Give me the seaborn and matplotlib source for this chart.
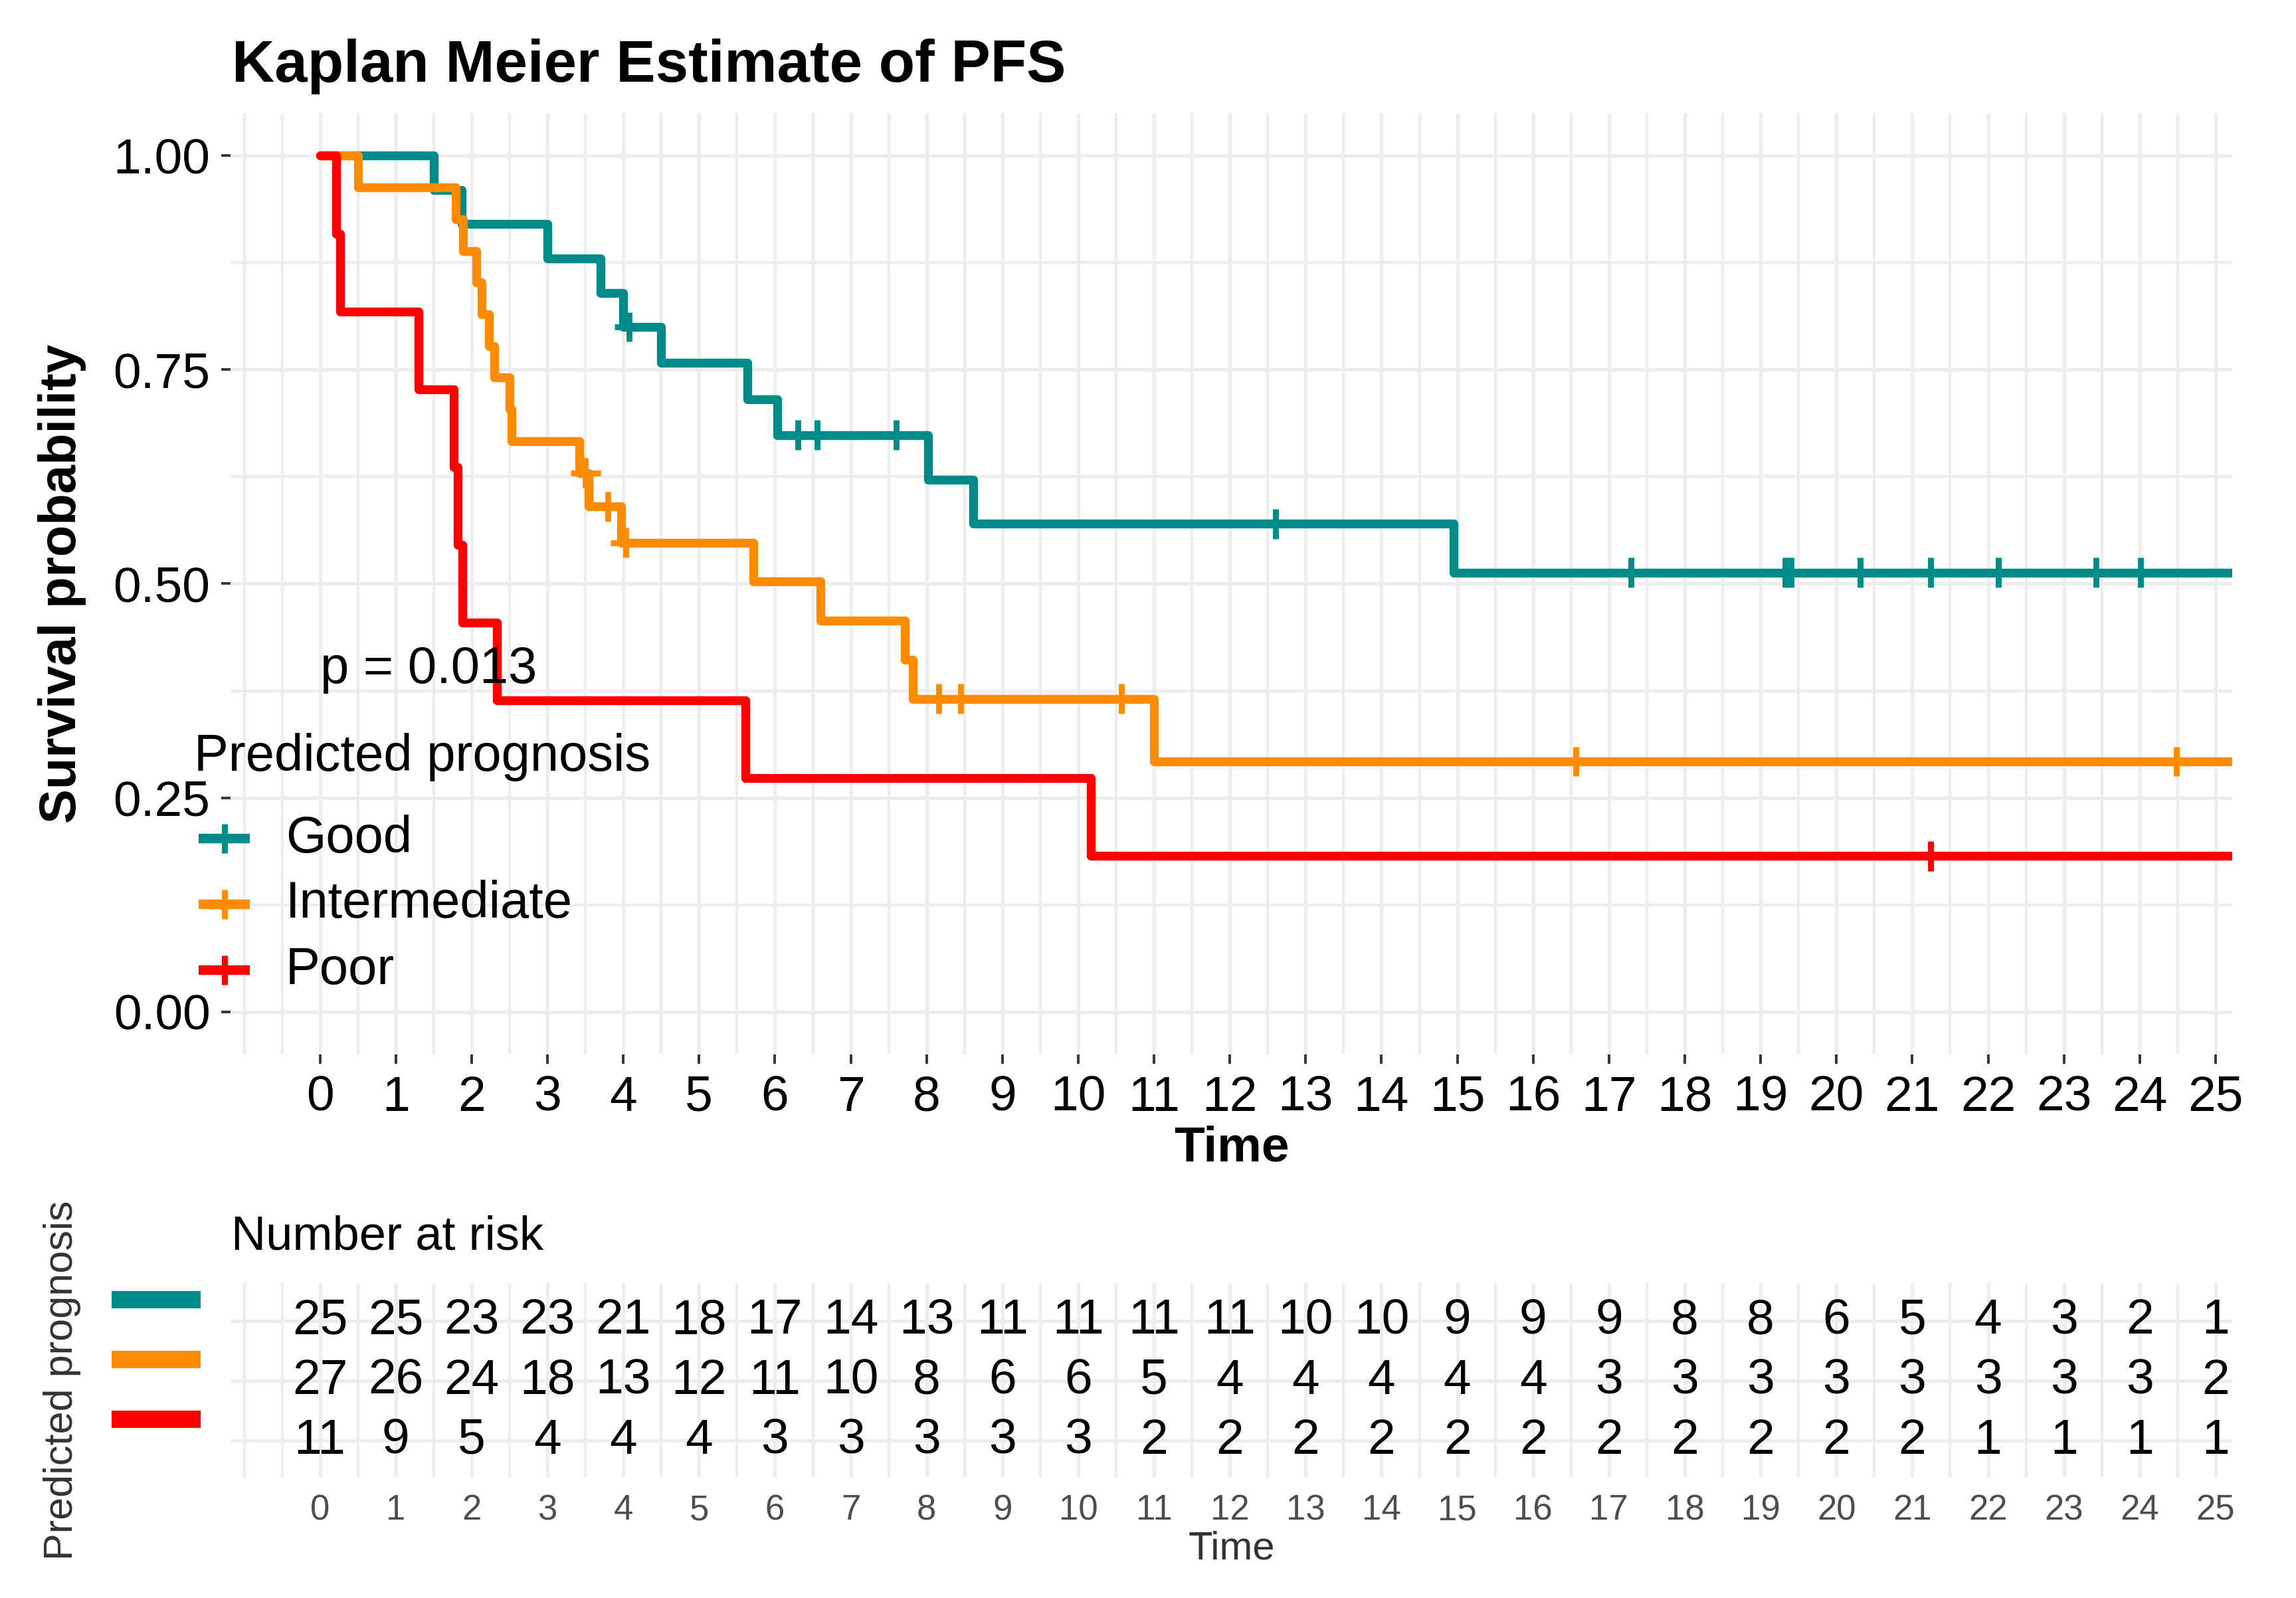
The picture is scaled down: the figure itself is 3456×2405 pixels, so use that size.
import numpy as np
import pandas as pd
import seaborn as sns
import matplotlib.pyplot as plt
from matplotlib import transforms

#AQUI DEFINIMOS LOS DATOS (TIEMPOS)
grupos = ['Good', 'Intermediate', 'Poor']
colores = ['#008B8B', '#FF8C00', '#FF0000']
n_inicio = [25, 27, 11]

eventos_good = [1.5, 1.87, 3.0, 3.7, 4.0, 4.5, 5.64, 6.03, 8.02, 8.62, 14.95]
censura_good = [4.08, 6.30, 6.56, 7.6, 12.6, 17.29, 19.32, 19.40, 20.31, 21.24, 22.14, 23.42, 24.01]

eventos_inter = [0.5, 1.79, 1.89, 2.06, 2.13, 2.23, 2.30, 2.50, 2.53, 3.42, 3.54, 3.97,
                 5.72, 6.60, 7.71, 7.82, 11.0]
censura_inter = [3.50, 3.80, 4.03, 8.16, 8.45, 10.57, 16.56, 24.48]

eventos_poor = [0.21, 0.27, 1.30, 1.76, 1.82, 1.88, 2.33, 5.61, 10.17]
censura_poor = [21.24]

t_final = 25.23
p_valor = 'p = 0.013'

#NUMERO EN RIESGO (TABLA DE ABAJO)
tiempos_riesgo = list(range(0, 26))
riesgo_good = [25, 25, 23, 23, 21, 18, 17, 14, 13, 11, 11, 11, 11, 10, 10, 9, 9, 9, 8, 8, 6, 5, 4, 3, 2, 1]
riesgo_inter = [27, 26, 24, 18, 13, 12, 11, 10, 8, 6, 6, 5, 4, 4, 4, 4, 4, 3, 3, 3, 3, 3, 3, 3, 3, 2]
riesgo_poor = [11, 9, 5, 4, 4, 4, 3, 3, 3, 3, 3, 2, 2, 2, 2, 2, 2, 2, 2, 2, 2, 2, 1, 1, 1, 1]


#AQUI CREAMOS NUESTRA FUNCION DE KAPLAN MEIER
def curva_km(n, eventos, censuras, t_fin):
    tiempos = [0.0]
    surv = [1.0]
    en_riesgo = n
    s = 1.0
    todos = sorted([(t, 0) for t in eventos] + [(t, 1) for t in censuras])
    for t, es_censura in todos:
        if not es_censura:
            s = s * (en_riesgo - 1) / en_riesgo
            tiempos.append(t)
            surv.append(s)
        en_riesgo -= 1
    tiempos.append(t_fin)
    surv.append(s)
    return tiempos, surv


def valor_en(tiempos, surv, t):
    idx = np.searchsorted(tiempos, t, side='right') - 1
    return surv[idx]


datos = [(eventos_good, censura_good), (eventos_inter, censura_inter), (eventos_poor, censura_poor)]
filas_curva = []
filas_censura = []
for g, n, (ev, ce) in zip(grupos, n_inicio, datos):
    tt, ss = curva_km(n, ev, ce, t_final)
    for t, s in zip(tt, ss):
        filas_curva.append({'tiempo': t, 'surv': s, 'grupo': g})
    for t in ce:
        filas_censura.append({'tiempo': t, 'surv': valor_en(tt, ss, t), 'grupo': g})

df_curvas = pd.DataFrame(filas_curva)
df_censuras = pd.DataFrame(filas_censura)
paleta = dict(zip(grupos, colores))

#ESTILO GENERAL
sns.set_theme(style='white')
plt.rcParams['font.family'] = ['Liberation Sans', 'DejaVu Sans']
plt.rcParams['text.color'] = 'black'
plt.rcParams['axes.labelcolor'] = 'black'
color_grid = '#EDEDED'

fig = plt.figure(figsize=(17.28, 12.025), dpi=200)
W, H = 3456, 2405

#GRAFICA PRINCIPAL
ax = fig.add_axes([347 / W, 1 - 1587 / H, 3013 / W, 1417 / H])
sns.lineplot(data=df_curvas, x='tiempo', y='surv', hue='grupo', palette=paleta,
             drawstyle='steps-post', estimator=None, sort=False, lw=4.8,
             legend=False, ax=ax)
sns.scatterplot(data=df_censuras, x='tiempo', y='surv', hue='grupo', palette=paleta,
                marker='+', s=260, linewidth=3.2, legend=False, ax=ax, zorder=4)

ax.set_xlim(-1.18, 25.22)
ax.set_ylim(-0.05, 1.05)
ax.set_xticks(range(0, 26))
ax.set_xticks(np.arange(-1, 25.01, 0.5), minor=True)
ax.set_yticks([0, 0.25, 0.5, 0.75, 1.0])
ax.set_yticklabels(['0.00', '0.25', '0.50', '0.75', '1.00'])
ax.set_yticks([0.125, 0.375, 0.625, 0.875], minor=True)
ax.grid(which='major', color=color_grid, lw=1.9)
ax.grid(which='minor', color=color_grid, lw=1.6)
ax.set_axisbelow(True)
ax.tick_params(which='major', labelsize=27, length=5, width=1.4, color='#333333',
               pad=6, labelcolor='black', left=True, bottom=True)
ax.tick_params(which='minor', length=0)
for sp in ax.spines.values():
    sp.set_visible(False)

ax.set_xlabel('Time', fontsize=27, weight='bold')
ax.xaxis.set_label_coords(0.5, -0.0995)
ax.xaxis.label.set_va('center')
ax.set_ylabel('Survival probability', fontsize=28, weight='bold')
ax.yaxis.set_label_coords(-0.0843, 0.5)
ax.yaxis.label.set_va('center')

ax.text(0, 0.4, p_valor, ha='left', va='center', fontsize=28)

fig.text(349 / W, 1 - 123 / H, 'Kaplan Meier Estimate of PFS', fontsize=32,
         weight='bold', va='baseline', ha='left')

#LEYENDA DENTRO DE LA GRAFICA
fig.text(292 / W, 1 - 1139 / H, 'Predicted prognosis', fontsize=28, va='center', ha='left')
for i, (g, c) in enumerate(zip(grupos, colores)):
    y_fila = 1 - (1262 + 99 * i) / H
    fig.add_artist(plt.Line2D([299 / W, 376 / W], [y_fila, y_fila], color=c, lw=5.2,
                              solid_capstyle='butt'))
    fig.add_artist(plt.Line2D([337.5 / W], [y_fila], color=c, marker='+',
                              markersize=16, markeredgewidth=3.2))
    fig.text(430 / W, y_fila, g, fontsize=28, va='center', ha='left')

#TABLA DE NUMERO EN RIESGO
ax2 = fig.add_axes([347 / W, 1 - 2223 / H, 3013 / W, 292 / H])
riesgos = [riesgo_good, riesgo_inter, riesgo_poor]
for fila, valores in enumerate(riesgos, start=1):
    for t, v in zip(tiempos_riesgo, valores):
        ax2.text(t, fila, str(v), ha='center', va='center', fontsize=27)

ax2.set_xlim(-1.18, 25.22)
ax2.set_ylim(3.61, 0.367)
ax2.set_xticks(range(0, 26))
ax2.set_xticks(np.arange(-1, 25.01, 0.5), minor=True)
ax2.set_yticks([1, 2, 3])
ax2.set_yticklabels([])
ax2.grid(which='major', color=color_grid, lw=1.9)
ax2.grid(which='minor', axis='x', color=color_grid, lw=1.6)
ax2.set_axisbelow(True)
ax2.tick_params(which='both', length=0)
ax2.tick_params(axis='x', labelsize=19, labelcolor='#4D4D4D', pad=9)
for sp in ax2.spines.values():
    sp.set_visible(False)

ax2.set_xlabel('Time', fontsize=21.5, color='#333333')
ax2.xaxis.set_label_coords(0.5, -0.37)
ax2.xaxis.label.set_va('center')
ax2.set_ylabel('Predicted prognosis', fontsize=22, color='#333333')
ax2.yaxis.set_label_coords(-0.0843, 0.5)
ax2.yaxis.label.set_va('center')

#BARRAS DE COLOR A LA IZQUIERDA DE LA TABLA
mezcla = transforms.blended_transform_factory(fig.transFigure, ax2.transData)
for fila, c in enumerate(colores, start=1):
    ax2.plot([168 / W, 302 / W], [fila - 0.36, fila - 0.36], color=c, lw=9.4,
             transform=mezcla, clip_on=False, solid_capstyle='butt')

fig.text(348 / W, 1 - 1862 / H, 'Number at risk', fontsize=26, va='center', ha='left')

fig.savefig('out.png', dpi=200)
